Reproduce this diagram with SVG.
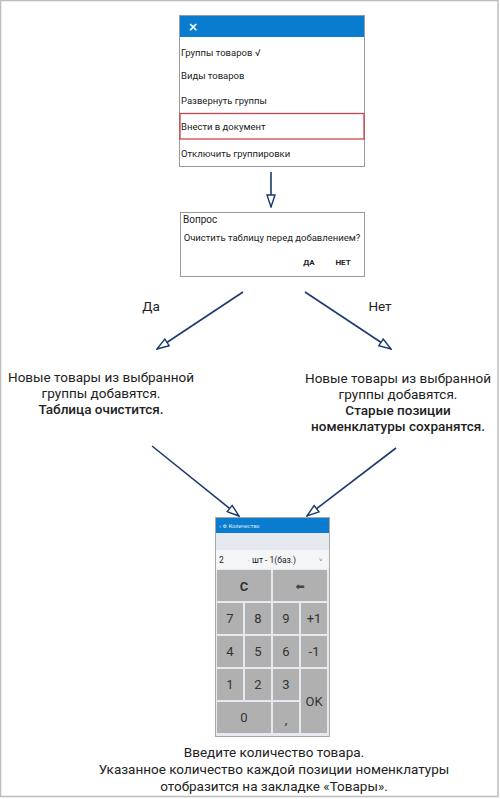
<svg xmlns="http://www.w3.org/2000/svg" width="500" height="799" viewBox="0 0 500 799">
<defs>
<marker id="ah" viewBox="0 0 14 10" refX="13" refY="5" markerWidth="14" markerHeight="10" markerUnits="userSpaceOnUse" orient="auto">
<path d="M1,1 L13,5 L1,9 Z" fill="#fff" stroke="#1c3a6e" stroke-width="1.4"/>
</marker>
<style>
.t{font-family:Roboto,"Liberation Sans",sans-serif;fill:#222}
.m{font-size:9.5px}
.big{font-size:13.5px;text-anchor:middle}
.b{font-weight:500}
.conn{stroke:#1c3a6e;stroke-width:1.6;fill:none}
.key{fill:#b0b0b0}
.kt{font-family:Roboto,"Liberation Sans",sans-serif;font-size:13px;fill:#333;text-anchor:middle}
</style>
</defs>
<rect x="0" y="0" width="500" height="799" fill="#fff"/>
<rect x="0.5" y="0.5" width="497.5" height="796" fill="none" stroke="#bdbdbd" stroke-width="1.5"/>

<g id="menu">
<rect x="179.5" y="15.5" width="185" height="151" fill="#fff" stroke="#9a9a9a"/>
<rect x="180" y="16" width="184" height="21" fill="#0a7cd0"/>
<text x="188" y="31" font-family="'DejaVu Sans',sans-serif" font-size="12" font-weight="bold" fill="#fff">×</text>
<text class="t m" x="181" y="56">Группы товаров √</text>
<text class="t m" x="181" y="79">Виды товаров</text>
<text class="t m" x="181" y="104">Развернуть группы</text>
<rect x="180" y="113.5" width="184" height="25.5" fill="none" stroke="#c9454e" stroke-width="1.3"/>
<text class="t m" x="181" y="130">Внести в документ</text>
<text class="t m" x="181" y="157">Отключить группировки</text>
</g>

<g id="dialog">
<rect x="180.5" y="212.5" width="184" height="64" fill="#fff" stroke="#9a9a9a"/>
<text class="t" x="183" y="223" font-size="10">Вопрос</text>
<text class="t" x="272" y="241" font-size="9.5" text-anchor="middle">Очистить таблицу перед добавлением?</text>
<text class="t" x="309" y="265" font-size="8" font-weight="bold" text-anchor="middle">ДА</text>
<text class="t" x="343" y="265" font-size="8" font-weight="bold" text-anchor="middle">НЕТ</text>
</g>

<g id="label-yes"><text class="t big" x="151" y="311">Да</text></g>
<g id="label-no"><text class="t big" x="380" y="311">Нет</text></g>

<g id="result-yes">
<text class="t big" x="101" y="382">Новые товары из выбранной</text>
<text class="t big" x="101" y="398">группы добавятся.</text>
<text class="t big b" x="101" y="414">Таблица очистится.</text>
</g>

<g id="result-no">
<text class="t big" x="398" y="383">Новые товары из выбранной</text>
<text class="t big" x="398" y="399">группы добавятся.</text>
<text class="t big b" x="398" y="415">Старые позиции</text>
<text class="t big b" x="398" y="431">номенклатуры сохранятся.</text>
</g>

<g id="connectors">
<line class="conn" x1="271" y1="172" x2="271" y2="207" marker-end="url(#ah)"/>
<line class="conn" x1="243" y1="292" x2="157" y2="349" marker-end="url(#ah)"/>
<line class="conn" x1="305" y1="292" x2="391" y2="349" marker-end="url(#ah)"/>
<line class="conn" x1="152" y1="446" x2="239" y2="516" marker-end="url(#ah)"/>
<line class="conn" x1="396" y1="448" x2="307" y2="516" marker-end="url(#ah)"/>
</g>

<g id="quantity">
<rect x="215.5" y="517.5" width="114" height="219" fill="#e6e9ef" stroke="#a8a8a8"/>
<rect x="216" y="518" width="113" height="15" fill="#0a7cd0"/>
<text x="219" y="528" font-family="'DejaVu Sans',sans-serif" font-size="5" fill="#fff">‹ ⚙ Количество</text>
<rect x="216" y="550" width="113" height="19" fill="#f4f5f7"/>
<text x="219" y="563" font-family="Roboto,'Liberation Sans',sans-serif" font-size="8.5" fill="#222">2</text>
<text x="248" y="563" font-family="Roboto,'Liberation Sans',sans-serif" font-size="7" fill="#bbb">-</text>
<text x="252" y="563" font-family="Roboto,'Liberation Sans',sans-serif" font-size="8.5" fill="#222">шт - 1(баз.)</text>
<text x="319" y="562" font-family="Roboto,'Liberation Sans',sans-serif" font-size="6" fill="#666">˅</text>
<rect class="key" x="217" y="570" width="54" height="31"/>
<rect class="key" x="273" y="570" width="54" height="31"/>
<text class="kt" x="244" y="591" font-weight="bold" font-size="14">C</text>
<text x="300" y="590" font-family="'DejaVu Sans',sans-serif" font-size="11" fill="#444" text-anchor="middle">⬅</text>
<rect class="key" x="217" y="603" width="26" height="31"/>
<rect class="key" x="245" y="603" width="26" height="31"/>
<rect class="key" x="273" y="603" width="26" height="31"/>
<rect class="key" x="301" y="603" width="26" height="31"/>
<text class="kt" x="230" y="623">7</text>
<text class="kt" x="258" y="623">8</text>
<text class="kt" x="286" y="623">9</text>
<text class="kt" x="314" y="623">+1</text>
<rect class="key" x="217" y="636" width="26" height="31"/>
<rect class="key" x="245" y="636" width="26" height="31"/>
<rect class="key" x="273" y="636" width="26" height="31"/>
<rect class="key" x="301" y="636" width="26" height="31"/>
<text class="kt" x="230" y="656">4</text>
<text class="kt" x="258" y="656">5</text>
<text class="kt" x="286" y="656">6</text>
<text class="kt" x="314" y="656">-1</text>
<rect class="key" x="217" y="669" width="26" height="31"/>
<rect class="key" x="245" y="669" width="26" height="31"/>
<rect class="key" x="273" y="669" width="26" height="31"/>
<rect class="key" x="301" y="669" width="26" height="64"/>
<text class="kt" x="230" y="689">1</text>
<text class="kt" x="258" y="689">2</text>
<text class="kt" x="286" y="689">3</text>
<text class="kt" x="314" y="706">OK</text>
<rect class="key" x="217" y="702" width="54" height="31"/>
<rect class="key" x="273" y="702" width="26" height="31"/>
<text class="kt" x="244" y="722">0</text>
<text class="kt" x="286" y="724">,</text>
</g>

<g id="caption">
<text class="t big" x="274" y="757">Введите количество товара.</text>
<text class="t big" x="274" y="774">Указанное количество каждой позиции номенклатуры</text>
<text class="t big" x="274" y="791">отобразится на закладке «Товары».</text>
</g>
</svg>
